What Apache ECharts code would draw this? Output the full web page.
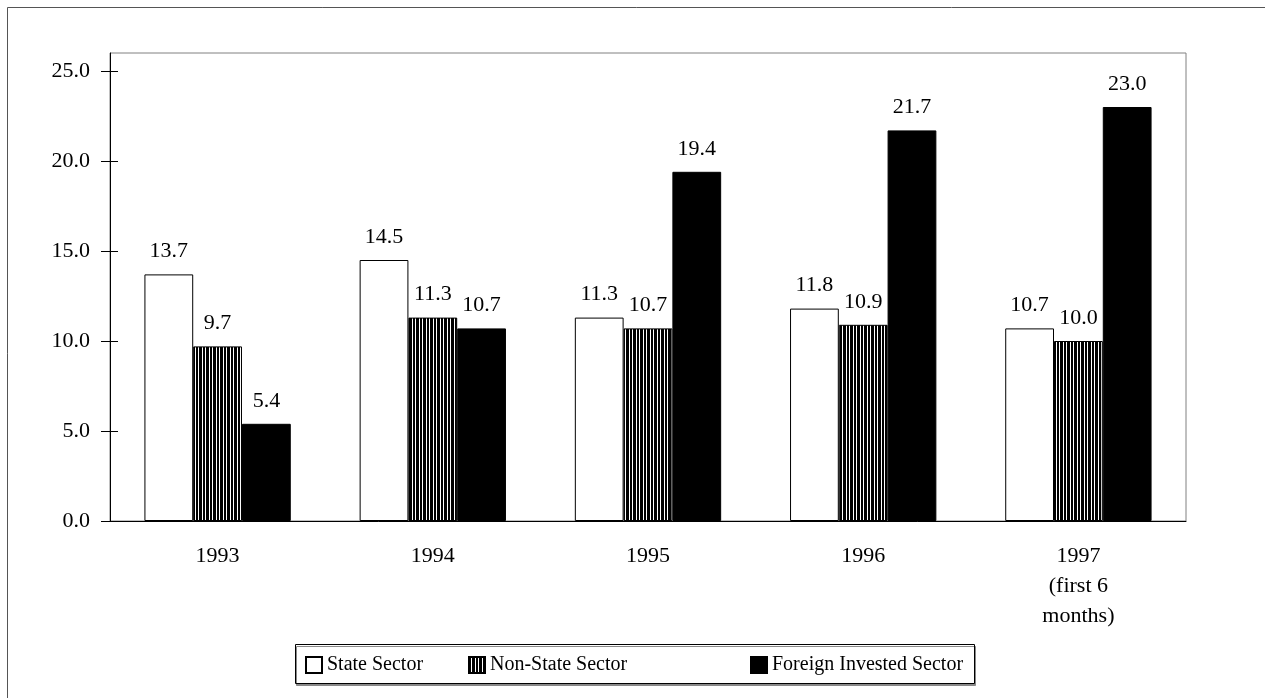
<!DOCTYPE html>
<html>
<head>
<meta charset="utf-8">
<script src="https://cdn.jsdelivr.net/npm/echarts@6/dist/echarts.min.js"></script>
<style>
  html, body { margin: 0; padding: 0; background: #fff; }
  #root { width: 1265px; height: 698px; }
</style>
</head>
<body>
<div id="root"></div>
<script>
// 数据
var years = ['1993', '1994', '1995', '1996', '1997\n(first 6\nmonths)'];
var stateSector = [13.7, 14.5, 11.3, 11.8, 10.7];
var nonStateSector = [9.7, 11.3, 10.7, 10.9, 10.0];
var foreignSector = [5.4, 10.7, 19.4, 21.7, 23.0];
var yTicks = [0, 5, 10, 15, 20, 25];

var FONT = 'Liberation Serif';

// 竖条纹填充
var hatch = document.createElement('canvas');
hatch.width = 7;
hatch.height = 4;
var hctx = hatch.getContext('2d');
hctx.fillStyle = '#fff';
hctx.fillRect(0, 0, 7, 4);
hctx.fillStyle = '#000';
hctx.fillRect(0, 0, 2, 4);
hctx.fillRect(3, 0, 3, 4);

var myChart = echarts.init(document.getElementById('root'));

function valueLabel() {
  return {
    show: true,
    position: 'top',
    distance: 12,
    fontFamily: FONT,
    fontSize: 22,
    color: '#000',
    formatter: function (p) { return p.value.toFixed(1); }
  };
}

function legendAt(name, left) {
  return {
    data: [{ name: name, icon: 'rect' }],
    left: left,
    top: 655,
    padding: 0,
    itemWidth: 16,
    itemHeight: 16,
    itemGap: 0,
    z: 5,
    textStyle: { fontFamily: FONT, fontSize: 20, color: '#000' }
  };
}

myChart.setOption({
  animation: false,
  backgroundColor: '#fff',
  graphic: [
    {
      type: 'rect', z: 0,
      shape: { x: 7.5, y: 7.5, width: 1400, height: 1000 },
      style: { fill: 'none', stroke: '#555', lineWidth: 1 }
    },
    {
      type: 'rect', z: 0,
      shape: { x: 295.5, y: 644.5, width: 679, height: 39 },
      style: { fill: '#fff', stroke: '#000', lineWidth: 1, shadowColor: '#888', shadowOffsetX: 1, shadowOffsetY: 2 }
    }
  ],
  legend: [
    legendAt('State Sector', 305),
    legendAt('Non-State Sector', 468),
    legendAt('Foreign Invested Sector', 750)
  ],
  grid: {
    left: 110, right: 79, top: 53, bottom: 177,
    show: true, borderColor: '#808080', borderWidth: 1
  },
  xAxis: [
    {
      type: 'category',
      data: years,
      axisLine: { lineStyle: { color: '#000', width: 1 } },
      axisTick: { length: 8, lineStyle: { color: '#000' } },
      axisLabel: { fontFamily: FONT, fontSize: 22, color: '#000', margin: 20, lineHeight: 30 }
    },
    {
      type: 'category',
      data: years,
      position: 'bottom',
      axisLine: { show: false },
      axisTick: { inside: true, length: 7, lineStyle: { color: '#000' } },
      axisLabel: { show: false }
    }
  ],
  yAxis: [
    {
      type: 'value', min: 0, max: 26,
      splitLine: { show: false },
      axisLine: { show: true, lineStyle: { color: '#000', width: 1 } },
      axisTick: { show: true, length: 9, customValues: yTicks, lineStyle: { color: '#000' } },
      axisLabel: {
        customValues: yTicks,
        fontFamily: FONT, fontSize: 22, color: '#000', margin: 20,
        formatter: function (v) { return v.toFixed(1); }
      }
    },
    {
      type: 'value', min: 0, max: 26, position: 'left',
      splitLine: { show: false },
      axisLine: { show: false },
      axisTick: { show: true, inside: true, length: 8, customValues: yTicks, lineStyle: { color: '#000' } },
      axisLabel: { show: false }
    }
  ],
  series: [
    {
      name: 'State Sector', type: 'bar', data: stateSector,
      barGap: 0, barCategoryGap: '32%',
      itemStyle: { color: '#fff', borderColor: '#000', borderWidth: 1 },
      label: valueLabel()
    },
    {
      name: 'Non-State Sector', type: 'bar', data: nonStateSector,
      itemStyle: { color: { image: hatch, repeat: 'repeat' }, borderColor: '#000', borderWidth: 1 },
      label: valueLabel()
    },
    {
      name: 'Foreign Invested Sector', type: 'bar', data: foreignSector,
      itemStyle: { color: '#000', borderColor: '#000', borderWidth: 1 },
      label: valueLabel()
    }
  ]
});
</script>
</body>
</html>
